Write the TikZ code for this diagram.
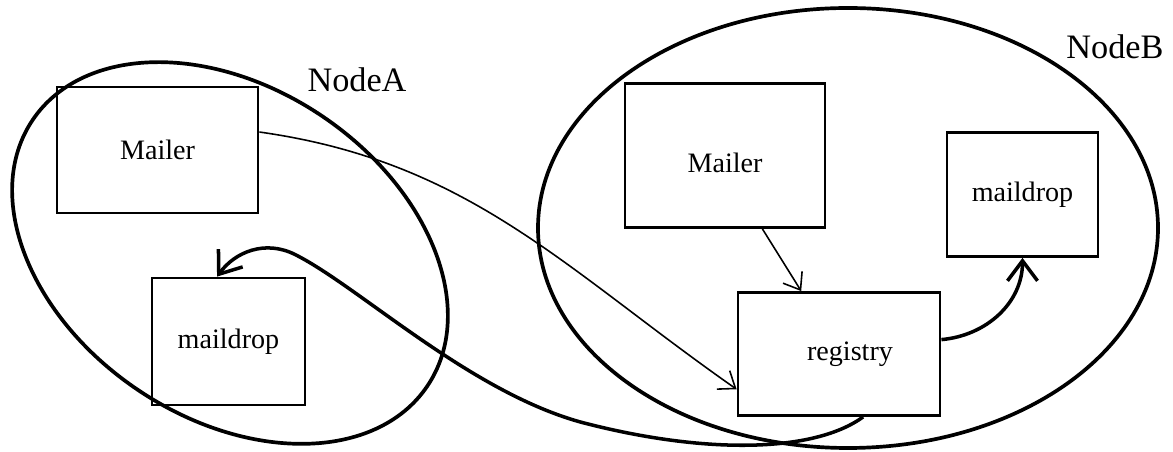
\documentclass[tikz,border=0pt]{standalone}
\usepackage{fontspec}
\setmainfont{Liberation Serif}
\usetikzlibrary{shapes.geometric,arrows.meta}

\begin{document}
\begin{tikzpicture}[
  box/.style={draw, line width=1.6pt, inner sep=0pt, font=\fontsize{16}{19}\selectfont},
  cluster/.style={draw, ellipse, line width=2.1pt, inner sep=0pt},
  clustername/.style={font=\fontsize{19.5}{23}\selectfont},
  thinarrow/.style={line width=0.9pt, -{Straight Barb[length=3mm,width=4.5mm]}},
  thickarrow/.style={line width=2pt, -{Straight Barb[length=4mm,width=6mm]}}
]
\useasboundingbox (0,0) rectangle (23.46,9.04);

\node[cluster, minimum width=9.52cm, minimum height=6.6cm, rotate=-34] (clA) at (4.6,3.98) {};
\node[cluster, minimum width=12.4cm, minimum height=8.8cm] (clB) at (16.96,4.48) {};

\node[clustername] (nameA) at (7.14,7.44) {NodeA};
\node[clustername] (nameB) at (22.3,8.1) {NodeB};

\node[box, minimum width=4.02cm, minimum height=2.52cm] (mailerA) at (3.15,6.04) {Mailer};
\node[box, minimum width=3.06cm, minimum height=2.54cm] (dropA) at (4.57,2.21) {maildrop};
\node[box, minimum width=4.0cm, minimum height=2.88cm, text height=0.7cm] (mailerB) at (14.5,5.93) {Mailer};
\node[box, minimum width=3.02cm, minimum height=2.48cm] (dropB) at (20.45,5.15) {maildrop\hspace{0.48cm}};
\node[box, minimum width=4.04cm, minimum height=2.46cm] (registry) at (16.78,1.96) {\hspace{0.44cm}registry};

\draw[thinarrow] (mailerA.10) to[out=-8,in=145] (registry.199);
\draw[thinarrow] (mailerB.-63) -- (registry.121);
\draw[thickarrow] (registry.8) to[out=5,in=-90] (dropB.south);
\draw[thickarrow] (registry.-69) .. controls (16.3,0) and (14.2,-0.05) .. (11.8,0.55)
  .. controls (9.5,1.1) and (7.2,3.3) .. (5.9,3.95)
  .. controls (5.3,4.25) and (4.7,4.0) .. (dropA.100);
\end{tikzpicture}
\end{document}
